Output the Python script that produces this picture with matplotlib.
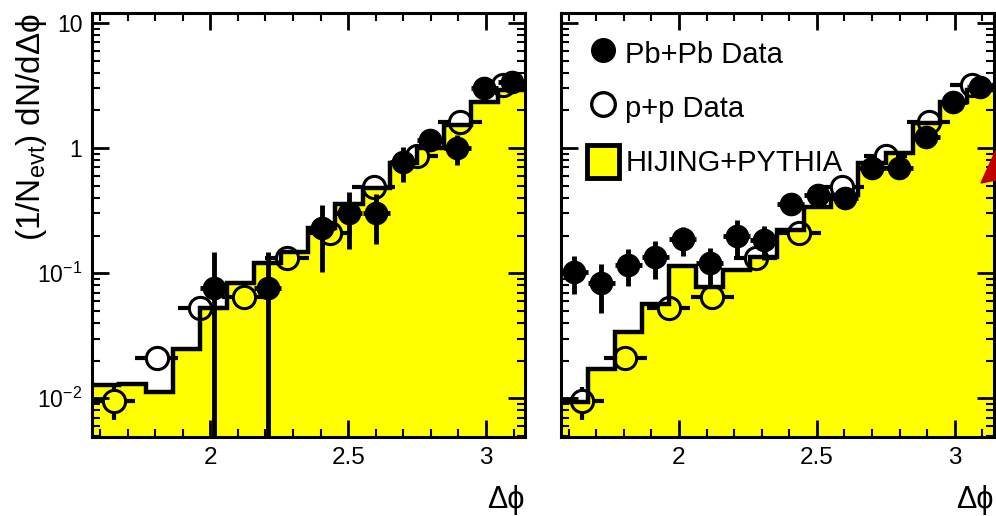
import numpy as np
import matplotlib
matplotlib.use('Agg')
import matplotlib.pyplot as plt
from matplotlib.lines import Line2D
from matplotlib.patches import Patch, Polygon
from matplotlib.ticker import LogLocator, MultipleLocator, FixedLocator, FuncFormatter, NullFormatter

plt.rcParams['font.family'] = ['Liberation Sans', 'DejaVu Sans']
plt.rcParams['mathtext.fontset'] = 'custom'
plt.rcParams['mathtext.rm'] = 'Liberation Sans'
plt.rcParams['mathtext.it'] = 'Liberation Sans:italic'

# fine binning (pi/32) used by Pb+Pb data and HIJING+PYTHIA
edges = [1.571, 1.669, 1.767, 1.865, 1.963, 2.062, 2.160, 2.258, 2.356,
         2.454, 2.553, 2.651, 2.749, 2.847, 2.945, 3.043, 3.142]
cent = [1.620, 1.718, 1.816, 1.914, 2.013, 2.111, 2.209, 2.307,
        2.405, 2.503, 2.602, 2.700, 2.798, 2.896, 2.994, 3.093]
halfw = 0.049

# coarse binning (pi/20) for p+p
cent_pp = [1.649, 1.806, 1.963, 2.121, 2.278, 2.435, 2.592, 2.749, 2.906, 3.063]
halfw_pp = 0.0785
pp = [0.0095, 0.021, 0.053, 0.065, 0.133, 0.21, 0.49, 0.86, 1.62, 3.2]
pp_err = [0.0028, 0.002, 0.005, 0.006, 0.01, 0.015, 0.03, 0.05, 0.08, 0.15]

# left panel
hij_l = [0.0127, 0.0131, 0.0112, 0.025, 0.053, 0.084, 0.121, 0.148,
         0.23, 0.36, 0.48, 0.76, 1.0, 1.53, 2.35, 2.9]
pb_l = [np.nan, np.nan, np.nan, np.nan, 0.0755, np.nan, 0.0755, np.nan,
        0.228, 0.30, 0.30, 0.78, 1.16, 1.0, 3.0, 3.4]
pb_l_err = [0, 0, 0, 0, 0.073, 0, 0.073, 0,
            0.125, 0.145, 0.13, 0.24, 0.1, 0.27, 0.2, 0.2]

# right panel
hij_r = [0.0093, 0.0173, 0.034, 0.057, 0.114, 0.078, 0.106, 0.135,
         0.22, 0.34, 0.42, 0.76, 0.91, 1.58, 2.35, 2.9]
pb_r = [0.103, 0.083, 0.117, 0.135, 0.186, 0.12, 0.2, 0.183,
        0.36, 0.42, 0.40, 0.69, 0.69, 1.23, 2.35, 3.1]
pb_r_err = [0.035, 0.035, 0.038, 0.045, 0.05, 0.04, 0.065, 0.055,
            0.05, 0.05, 0.05, 0.07, 0.07, 0.1, 0.15, 0.2]

ytick_txt = {0.01: r'$\mathregular{10^{-2}}$', 0.1: r'$\mathregular{10^{-1}}$',
             1.0: '1', 10.0: '10'}

# marker radius expressed in data units (x) and in decades (y), so that
# the p+p error bars stop at the edge of the hollow circle like ROOT does
gap_x = 0.041
gap_dec = 0.09

fig = plt.figure(figsize=(9.96, 5.16), dpi=100)
ax1 = fig.add_axes([0.0924, 0.153, 0.4347, 0.8217])
ax2 = fig.add_axes([0.5628, 0.153, 0.4350, 0.8217])


def draw(ax, hij, pb, pb_err):
    ax.set_yscale('log')
    ax.stairs(hij, edges, fill=True, color='#ffff00', baseline=1e-5, zorder=1)
    ax.stairs(hij, edges, color='k', lw=3.2, baseline=None, zorder=2)

    # p+p: hollow circles, bars drawn outside the marker only
    x = np.array(cent_pp)
    y = np.array(pp)
    e = np.array(pp_err)
    ax.hlines(y, x - halfw_pp, x - gap_x, color='k', lw=3, zorder=3)
    ax.hlines(y, x + gap_x, x + halfw_pp, color='k', lw=3, zorder=3)
    lo_edge = y * 10 ** (-gap_dec)
    hi_edge = y * 10 ** gap_dec
    m = (y - e) < lo_edge
    ax.vlines(x[m], (y - e)[m], lo_edge[m], color='k', lw=3, zorder=3)
    m = (y + e) > hi_edge
    ax.vlines(x[m], hi_edge[m], (y + e)[m], color='k', lw=3, zorder=3)
    ax.plot(x, y, 'o', ms=16, mfc='none', mec='k', mew=2.2, zorder=3)

    ax.errorbar(cent, pb, yerr=pb_err, xerr=halfw, fmt='o', ms=16,
                mfc='k', mec='k', ecolor='k', elinewidth=3.5,
                capsize=0, zorder=4)
    ax.set_xlim(np.pi / 2, np.pi)
    ax.set_ylim(0.0049, 12)
    ax.xaxis.set_major_locator(FixedLocator([2.0, 2.5, 3.0]))
    ax.xaxis.set_minor_locator(MultipleLocator(0.1))
    ax.yaxis.set_major_locator(LogLocator(base=10))
    ax.yaxis.set_minor_locator(LogLocator(base=10, subs=np.arange(2, 10)))
    ax.yaxis.set_minor_formatter(NullFormatter())
    ax.xaxis.set_major_formatter(FuncFormatter(lambda v, p: '%g' % v))
    ax.tick_params(which='both', direction='in', top=True, right=True,
                   labelsize=17.5, pad=7)
    ax.tick_params(axis='y', labelsize=16.5)
    ax.tick_params(which='major', length=12, width=2)
    ax.tick_params(which='minor', length=6, width=1.5)
    for s in ax.spines.values():
        s.set_linewidth(2.2)
    ax.set_xlabel('Δϕ', loc='right', fontsize=22, labelpad=12)


draw(ax1, hij_l, pb_l, pb_l_err)
draw(ax2, hij_r, pb_r, pb_r_err)

ax1.yaxis.set_major_formatter(FuncFormatter(lambda v, p: ytick_txt.get(round(v, 6), '')))
ax1.set_ylabel(r'(1/N$_{\mathregular{evt}}$) dN/dΔϕ', loc='top', fontsize=24)
ax1.yaxis.set_label_coords(-0.1, 1.0)
ax2.yaxis.set_major_formatter(NullFormatter())

handles = [
    Line2D([], [], marker='o', ls='none', ms=17, mfc='k', mec='k'),
    Line2D([], [], marker='o', ls='none', ms=17, mfc='none', mec='k', mew=2.4),
    Patch(facecolor='#ffff00', edgecolor='k', lw=3.5),
]
ax2.legend(handles, ['Pb+Pb Data', 'p+p Data', 'HIJING+PYTHIA'],
           loc='upper left', bbox_to_anchor=(0.035, 0.972), frameon=False,
           fontsize=21, handlelength=1.1, handleheight=1.35, handletextpad=0.2,
           labelspacing=0.74, borderaxespad=0.2, borderpad=0.2)

# cut-off red arrow tip at the right edge of the picture
fig.patches.append(Polygon([(981 / 996, 1 - 183 / 516), (996 / 996, 1 - 150 / 516),
                            (996 / 996, 1 - 180 / 516)], closed=True,
                           transform=fig.transFigure, color='#c00000'))

fig.savefig('out.png', dpi=100)
